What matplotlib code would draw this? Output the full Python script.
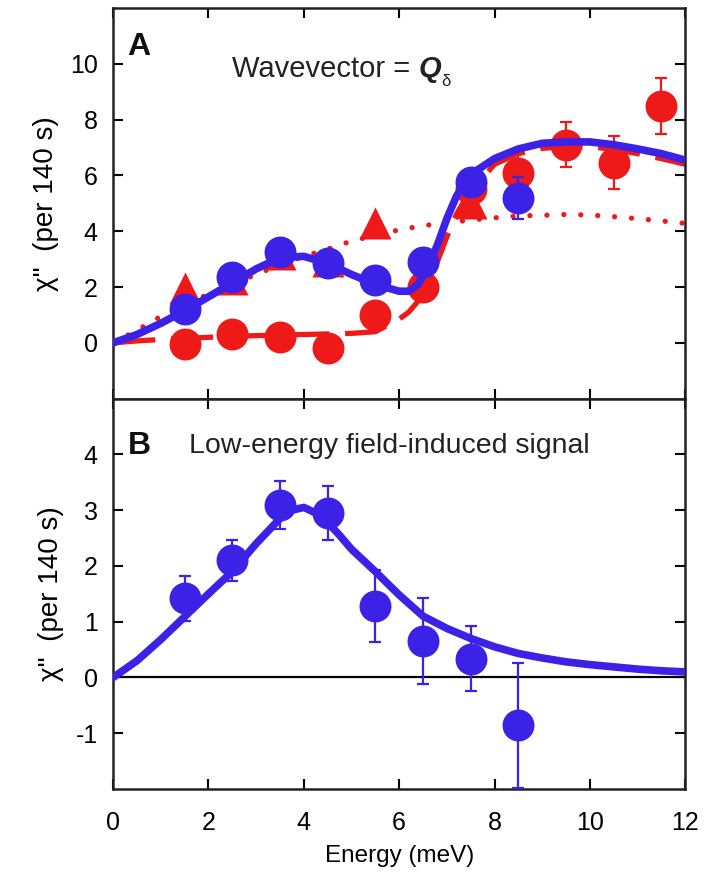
import matplotlib
matplotlib.use("Agg")
import matplotlib.pyplot as plt

plt.rcParams['font.family'] = ['Liberation Sans', 'DejaVu Sans']
plt.rcParams['axes.unicode_minus'] = False

RED = '#ee1a1a'
BLUE = '#3c22e6'

# ---- panel A data ----
e_pts = [1.5, 2.5, 3.5, 4.5, 5.5, 6.5, 7.5, 8.5]
blue_a = [1.2, 2.35, 3.25, 2.85, 2.25, 2.9, 5.75, 5.2]
blue_a_err = [0.3, 0.3, 0.3, 0.3, 0.3, 0.35, 0.4, 0.75]

red_e = [1.5, 2.5, 3.5, 4.5, 5.5, 6.5, 7.5, 8.5, 9.5, 10.5, 11.5]
red_circ = [-0.05, 0.33, 0.22, -0.18, 1.0, 2.0, 5.5, 6.1, 7.1, 6.45, 8.5]
red_circ_err = [0.3, 0.3, 0.3, 0.3, 0.3, 0.3, 0.4, 0.7, 0.8, 0.95, 1.0]

tri_e = [1.5, 2.5, 3.5, 4.5, 5.5, 6.5, 7.5]
tri_val = [1.95, 2.3, 3.2, 2.95, 4.3, 2.6, 5.0]

fit_e = [0, 0.5, 1, 1.5, 2, 2.5, 3, 3.5, 4, 4.5, 5, 5.5, 6, 6.2, 6.4, 6.6, 6.8,
         7.0, 7.2, 7.4, 7.6, 8, 8.5, 9, 9.5, 10, 10.5, 11, 11.5, 12]
blue_fit = [0, 0.3, 0.7, 1.15, 1.65, 2.15, 2.65, 3.05, 3.1, 2.85, 2.45, 2.1, 1.85,
            1.85, 2.1, 2.7, 3.5, 4.45, 5.25, 5.8, 6.15, 6.6, 6.95, 7.15, 7.2, 7.2,
            7.1, 6.95, 6.78, 6.55]
dash_fit = [0, 0.07, 0.12, 0.16, 0.2, 0.23, 0.26, 0.28, 0.3, 0.32, 0.34, 0.4, 0.85,
            1.1, 1.5, 2.1, 2.9, 3.8, 4.6, 5.2, 5.6, 6.4, 6.78, 6.97, 7.03, 7.03,
            6.93, 6.78, 6.6, 6.4]

dot_e = [0, 0.5, 1, 1.5, 2, 2.5, 3, 3.5, 4, 4.5, 5, 5.5, 6, 6.5, 7, 7.5, 8, 8.5,
         9, 9.5, 10, 10.5, 11, 11.5, 12]
dot_fit = [0, 0.45, 0.95, 1.35, 1.75, 2.1, 2.45, 2.8, 3.1, 3.35, 3.65, 3.85, 4.05,
           4.2, 4.3, 4.4, 4.48, 4.55, 4.57, 4.6, 4.58, 4.52, 4.45, 4.37, 4.28]

# ---- panel B data ----
blue_b = [1.42, 2.1, 3.1, 2.95, 1.28, 0.66, 0.34, -0.86]
blue_b_err = [0.4, 0.37, 0.43, 0.48, 0.65, 0.77, 0.58, 1.12]

b_fit_e = [0, 0.5, 1, 1.5, 2, 2.5, 3, 3.5, 3.75, 4, 4.25, 4.5, 4.75, 5, 5.5, 6,
           6.5, 7, 7.5, 8, 8.5, 9, 9.5, 10, 10.5, 11, 11.5, 12]
b_fit = [0, 0.3, 0.68, 1.09, 1.5, 1.9, 2.4, 2.85, 3.0, 3.05, 2.95, 2.78, 2.55,
         2.3, 1.9, 1.48, 1.1, 0.88, 0.7, 0.55, 0.43, 0.35, 0.28, 0.23, 0.19, 0.15,
         0.12, 0.1]

fig = plt.figure(figsize=(7.16, 8.84), dpi=100)
axA = fig.add_axes([0.158, 0.549, 0.799, 0.442])
axB = fig.add_axes([0.158, 0.1075, 0.799, 0.4415])

ms = 23
# panel A
axA.plot(dot_e, dot_fit, color=RED, lw=3.8, linestyle=(0, (0.01, 3.2)),
         dash_capstyle='round', zorder=2)
axA.plot(fit_e, dash_fit, color=RED, lw=3.8, linestyle=(0, (8, 3)), zorder=2)
axA.plot(tri_e, tri_val, '^', color=RED, ms=ms, mec='none', zorder=3)
axA.errorbar(red_e, red_circ, yerr=red_circ_err, fmt='o', color=RED, ms=ms,
             mec='none', elinewidth=1.6, capsize=4, capthick=1.6, zorder=4)
axA.plot(fit_e, blue_fit, color=BLUE, lw=5.5, zorder=5)
axA.errorbar(e_pts, blue_a, yerr=blue_a_err, fmt='o', color=BLUE, ms=ms,
             mec='none', elinewidth=1.6, capsize=4, capthick=1.6, zorder=6)
axA.set_ylim(-2, 12)
axA.set_yticks([0, 2, 4, 6, 8, 10])

t1 = axA.text(2.5, 9.8, 'Wavevector = ', fontsize=21, va='center', color='#222222')
t2 = axA.annotate('Q', xy=(1, 0.5), xycoords=t1, va='center', ha='left',
                  fontsize=21, fontweight='bold', fontstyle='italic', color='#222222')
axA.annotate('δ', xy=(1, 0.05), xycoords=t2, va='center', ha='left',
             fontsize=12, color='#222222')
axA.text(0.3, 10.6, 'A', fontsize=23, fontweight='bold', va='center', color='#111111')

# panel B
axB.axhline(0, color='black', lw=1.6, zorder=1)
axB.plot(b_fit_e, b_fit, color=BLUE, lw=5.5, zorder=3)
axB.errorbar(e_pts, blue_b, yerr=blue_b_err, fmt='o', color=BLUE, ms=ms,
             mec='none', elinewidth=1.6, capsize=4, capthick=1.6, zorder=4)
axB.set_ylim(-2, 5)
axB.set_yticks([-1, 0, 1, 2, 3, 4])
axB.text(0.3, 4.15, 'B', fontsize=23, fontweight='bold', va='center', color='#111111')
axB.text(1.6, 4.15, 'Low-energy field-induced signal', fontsize=20.5, va='center',
         color='#222222')
axB.set_xlabel('Energy (meV)', fontsize=17.5, labelpad=7)

for ax in (axA, axB):
    ax.set_xlim(0, 12)
    ax.set_xticks([0, 2, 4, 6, 8, 10, 12])
    ax.tick_params(direction='in', length=7, width=1.5, top=True, right=True,
                   labelsize=18)
    ax.tick_params(axis='x', pad=16)
    ax.tick_params(axis='y', pad=11)
    for sp in ax.spines.values():
        sp.set_linewidth(1.8)
        sp.set_color('#222222')
    ax.set_ylabel('χ"  (per 140 s)', fontsize=20, labelpad=8)
axA.tick_params(labelbottom=False)

fig.savefig('out.png', dpi=100)
